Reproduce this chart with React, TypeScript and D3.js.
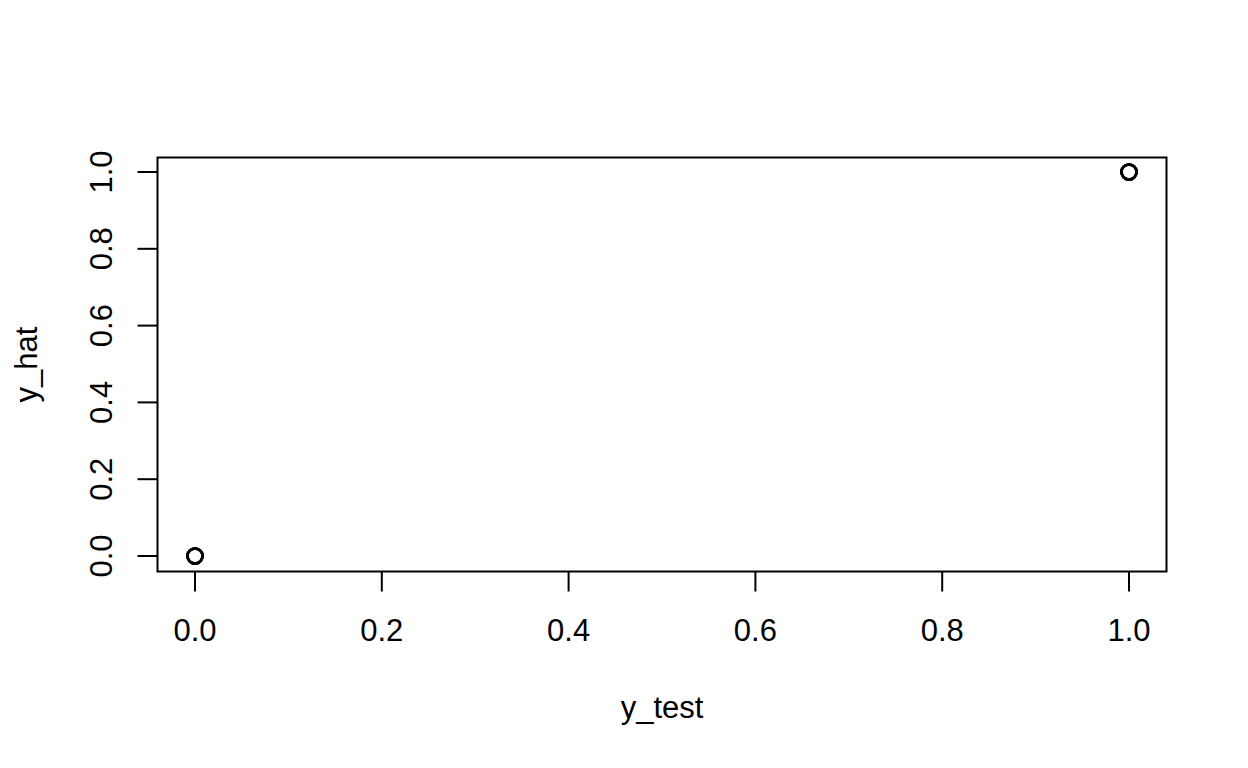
import React from "react";
import * as d3 from "d3";

const yTest = [0, 1, 0, 1, 1, 0, 0, 1, 1, 0];
const yHat = [0, 1, 0, 1, 1, 0, 0, 1, 1, 0];
const xTicks = [0, 0.2, 0.4, 0.6, 0.8, 1.0];
const yTicks = [0, 0.2, 0.4, 0.6, 0.8, 1.0];

export default function App() {
  const W = 1248, H = 768;
  const box = { left: 157.5, right: 1166.5, top: 157.5, bottom: 571.5 };
  const x = d3.scaleLinear().domain([0, 1]).range([195, 1129]);
  const y = d3.scaleLinear().domain([0, 1]).range([556, 172]);
  const font = "'Liberation Sans', Arial, Helvetica, sans-serif";
  const fs = 31;
  const tick = 20;
  return (
    <svg width={W} height={H} style={{ position: "absolute", left: 0, top: 0, background: "#fff" }}>
      <rect x={box.left} y={box.top} width={box.right - box.left} height={box.bottom - box.top} fill="none" stroke="#000" strokeWidth={2} />
      {xTicks.map((t) => (
        <g key={"x" + t}>
          <line x1={x(t)} x2={x(t)} y1={box.bottom} y2={box.bottom + tick} stroke="#000" strokeWidth={2} />
          <text x={x(t)} y={641} textAnchor="middle" fontFamily={font} style={{ fontSize: fs }}>{t.toFixed(1)}</text>
        </g>
      ))}
      {yTicks.map((t) => (
        <g key={"y" + t}>
          <line x1={box.left} x2={box.left - tick} y1={y(t)} y2={y(t)} stroke="#000" strokeWidth={2} />
          <text transform={`translate(112,${y(t)}) rotate(-90)`} textAnchor="middle" fontFamily={font} style={{ fontSize: fs }}>{t.toFixed(1)}</text>
        </g>
      ))}
      {yTest.map((v, i) => (
        <circle key={i} cx={x(v)} cy={y(yHat[i])} r={7.5} fill="none" stroke="#000" strokeWidth={2.5} />
      ))}
      <text x={(box.left + box.right) / 2} y={718} textAnchor="middle" fontFamily={font} style={{ fontSize: fs }}>y_test</text>
      <text transform={`translate(37,${(box.top + box.bottom) / 2}) rotate(-90)`} textAnchor="middle" fontFamily={font} style={{ fontSize: fs }}>y_hat</text>
    </svg>
  );
}
